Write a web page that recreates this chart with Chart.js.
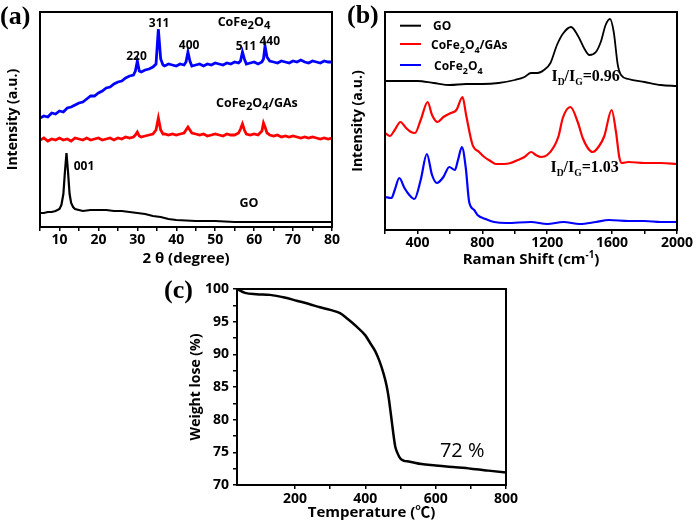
<!DOCTYPE html>
<html><head><meta charset="utf-8">
<script src="https://cdn.jsdelivr.net/npm/chart.js@4"></script>
<style>
html,body{margin:0;padding:0;background:#fff;}
#wrap{position:relative;width:697px;height:524px;overflow:hidden;background:#fff;}
canvas{position:absolute;}
</style></head><body>
<div id="wrap">
<canvas id="ca" width="345" height="270" style="left:0;top:0"></canvas>
<canvas id="cb" width="352" height="270" style="left:345px;top:0"></canvas>
<canvas id="cc" width="380" height="254" style="left:150px;top:270px"></canvas>
</div>
<script>
// ---------- (a) XRD ----------
const xrdX = [5,6,7,8,9,10,11,12,13,14,
  15,16,17,18,19,20,21,22,23,24,
  25,26,27,28,29,29.5,30,30.5,31,32,
  33,34,34.8,35.4,36,36.6,37,38,39,40,
  41,42,42.5,43,43.5,44,45,46,47,48,
  49,50,51,52,53,54,55,56,56.5,57,
  57.5,58,59,60,61,62,62.4,62.8,63.3,64,
  65,66,67,68,69,70,71,72,73,74,
  75,76,77,78,79,80];
const xrdCoFe2O4 = [109,111,110,114,113,116,115,119,120,122,
  124,125,128,131,131,134,136,139,140,143,
  145,146,149,151,152,156,166,156,155,157,
  158,160,163,198,168,162,161,163,162,161,
  163,162,165,175,166,161,162,163,161,163,
  162,164,163,162,164,163,165,164,166,175,
  168,163,164,165,163,165,168,181,170,166,
  165,164,166,165,164,166,165,167,165,164,
  166,165,164,166,165,165];
const xrdCoFe2O4GAs = [87,89,86,88,87,89,87,88,86,89,
  88,87,89,87,88,89,87,88,89,87,
  89,88,90,89,90,92,95,91,90,91,
  92,93,97,109,97,93,93,92,93,92,
  93,94,97,100,97,94,93,92,93,91,
  92,93,92,91,93,92,92,94,98,103,
  97,93,92,93,92,96,104,100,94,92,
  91,92,90,91,90,91,90,89,90,89,
  90,89,88,89,88,89];
const xrdGOX = [5,6,7,8,9,10,10.5,11,11.4,11.8,12.2,12.6,13,13.5,14,15,16,18,20,22,24,26,28,30,32,34,36,38,40,45,50,55,60,65,70,75,80];
const xrdGO  = [14,14,15,15,16,18,22,33,55,74,55,33,24,20,18,17,16,17,17,17,16,16,15,14,13,11,10,8,7,6,6,5,5,5,5,5,5];
const xrdTickLabels = [10,20,30,40,50,60,70,80];

// ---------- (b) Raman ----------
const ramanGOX = [200,300,400,500,600,700,800,900,1000,1060,1100,1140,1180,1220,1260,1300,1347,1390,1430,1460,1500,1530,1560,1587,1610,1635,1655,1700,1800,1900,2000];
const ramanGO  = [149,149,149,147,145,146,146,147,150,153,157,157,160,167,185,197,203,194,181,175,178,188,205,211,198,165,155,151,148,145,144];
const ramanGAsX = [200,230,260,295,330,360,385,420,463,490,524,560,606,640,678,700,740,780,812,850,883,930,975,1020,1060,1101,1130,1162,1200,1244,1270,1296,1343,1388,1419,1450,1480,1520,1552,1597,1624,1644,1660,1700,1800,1900,2000];
const ramanGAs  = [97,94,100,108,102,98,97,110,128,115,108,113,117,120,133,115,85,78,73,69,66,66,67,70,73,78,75,73,75,84,94,112,123,108,92,82,78,84,94,120,98,73,67,68,67,67,66];
const ramanCFOX = [200,240,260,288,320,350,381,420,458,490,520,560,596,631,650,674,698,719,750,770,820,873,950,1100,1200,1300,1400,1500,1580,1700,1800,1900,2000];
const ramanCFO  = [33,32,40,52,42,35,31,50,76,55,47,53,63,60,70,83,62,28,20,15,11,8,7,8,6,8,6,8,10,9,9,8,8];
const ramanTickLabels = [400,800,1200,1600,2000];

// ---------- (c) TGA ----------
const tgaT = [35,58,90,129,170,205,240,271,300,328,350,376,400,414,428,440,452,460,466,471,476,481,485,492,499,510,523,560,600,637,700,750,800];
const tgaW = [100,99.4,99.2,99.1,98.7,98.2,97.7,97.2,96.8,96.3,95.4,94.2,92.9,91.7,90.5,89.0,87.0,85.3,83.5,81.5,79.4,77.3,75.9,74.8,74.1,73.7,73.6,73.2,73.0,72.8,72.5,72.2,71.9];
const tgaXTickLabels = [200,400,600,800];
const tgaYTickLabels = [70,75,80,85,90,95,100];

const SANS = "'Open Sans','Noto Sans CJK SC','DejaVu Sans',sans-serif";
const SERIF = "'Liberation Serif','Times New Roman',serif";
Chart.defaults.font.family = SANS;
Chart.defaults.color = '#000';

function pts(xs, ys){ return xs.map((x,i)=>({x:x, y:ys[i]})); }

function rich(ctx, x, y, parts, size, weight, family, align, subScale, subDy, supDy){
  ctx.save();
  ctx.fillStyle = '#000';
  ctx.textBaseline = 'alphabetic';
  ctx.textAlign = 'left';
  let w = 0; const ms = [];
  for (const [t,k] of parts){
    const s = k==='n' ? size : size*subScale;
    ctx.font = weight+' '+s+'px '+family;
    const m = ctx.measureText(t).width;
    ms.push([t,k,s,m]); w += m;
  }
  let cx = align==='center' ? x - w/2 : x;
  for (const [t,k,s,m] of ms){
    ctx.font = weight+' '+s+'px '+family;
    const dy = k==='sub' ? subDy : (k==='sup' ? supDy : 0);
    ctx.fillText(t, cx, y+dy);
    cx += m;
  }
  ctx.restore();
}

function boxPlugin(drawExtra){
  return {
    id:'extra',
    afterDraw(chart){
      const ctx = chart.ctx, a = chart.chartArea;
      ctx.save();
      ctx.strokeStyle = '#000'; ctx.lineWidth = 2;
      ctx.strokeRect(a.left, a.top, a.right-a.left, a.bottom-a.top);
      ctx.restore();
      drawExtra(chart, ctx, a, chart.scales.x, chart.scales.y);
    }
  };
}

function lineDs(xs, ys, color, width, smooth){
  return {data: pts(xs, ys), borderColor: color, backgroundColor: color, borderWidth: width,
    pointRadius: 0, tension: 0, cubicInterpolationMode: smooth ? 'monotone' : 'default', fill:false};
}

const W = 'bold';
const tickFont = {size:14, weight:W};
const titleFont = {size:15, weight:W};

// ---------- Chart (a) ----------
new Chart(document.getElementById('ca'), {
  type:'line',
  data:{datasets:[
    lineDs(xrdX, xrdCoFe2O4, '#0000ff', 2.8, false),
    lineDs(xrdX, xrdCoFe2O4GAs, '#ff0000', 2.8, false),
    lineDs(xrdGOX, xrdGO, '#000000', 2.2, false)
  ]},
  options:{
    responsive:false, animation:false,
    layout:{padding:{top:12,right:13,left:0,bottom:0}},
    plugins:{legend:{display:false}, tooltip:{enabled:false}},
    scales:{
      x:{type:'linear', min:5, max:80,
        afterFit(s){ s.height = 43; },
        ticks:{stepSize:5, autoSkip:false, maxRotation:0, padding:1, font:tickFont, color:'#000',
          callback:v=> xrdTickLabels.includes(v) ? String(v) : ''},
        grid:{drawOnChartArea:false, color:'#000', lineWidth:1.5, tickLength:4},
        border:{display:false},
        title:{display:true, text:'2 θ (degree)', font:titleFont, color:'#000', padding:{top:0,bottom:2}}},
      y:{min:0, max:215,
        afterFit(s){ s.width = 40; },
        ticks:{display:false}, grid:{display:false}, border:{display:false},
        title:{display:true, text:'Intensity (a.u.)', font:{size:14, weight:W}, color:'#000', padding:{top:5,bottom:0}}}
    }
  },
  plugins:[boxPlugin((chart, ctx, a, xs, ys)=>{
    ctx.save();
    ctx.fillStyle='#000';
    ctx.font = 'bold 26px '+SERIF;
    ctx.textBaseline='middle'; ctx.textAlign='left';
    ctx.fillText('(a)', 0, 17);
    ctx.restore();
    const peaks = [['220',29.8,172],['311',35.6,205],['400',43.3,183],['511',57.9,182],['440',64.0,187],['001',16.3,62]];
    for (const [t,x,y] of peaks){
      const px = xs.getPixelForValue(x), py = ys.getPixelForValue(y);
      rich(ctx, px, py+4.5, [[t,'n']], 12, W, SANS, 'center', 1, 0, 0);
    }
    rich(ctx, xs.getPixelForValue(57.4), ys.getPixelForValue(206)+4.5,
      [['CoFe','n'],['2','sub'],['O','n'],['4','sub']], 12.5, W, SANS, 'center', 0.9, 3, 0);
    rich(ctx, xs.getPixelForValue(60.7), ys.getPixelForValue(125)+4.5,
      [['CoFe','n'],['2','sub'],['O','n'],['4','sub'],['/GAs','n']], 12.5, W, SANS, 'center', 0.9, 3, 0);
    rich(ctx, xs.getPixelForValue(58.7), ys.getPixelForValue(25)+4.5,
      [['GO','n']], 12.5, W, SANS, 'center', 1, 0, 0);
  })]
});

// ---------- Chart (b) ----------
new Chart(document.getElementById('cb'), {
  type:'line',
  data:{datasets:[
    lineDs(ramanGOX, ramanGO, '#000000', 1.8, true),
    lineDs(ramanGAsX, ramanGAs, '#ff0000', 2.2, true),
    lineDs(ramanCFOX, ramanCFO, '#0000ff', 2.2, true)
  ]},
  options:{
    responsive:false, animation:false,
    layout:{padding:{top:12,right:20,left:0,bottom:0}},
    plugins:{legend:{display:false}, tooltip:{enabled:false}},
    scales:{
      x:{type:'linear', min:200, max:2000,
        afterFit(s){ s.height = 40; },
        ticks:{stepSize:200, autoSkip:false, maxRotation:0, padding:1, font:tickFont, color:'#000',
          callback:v=> ramanTickLabels.includes(v) ? String(v) : ''},
        grid:{drawOnChartArea:false, color:'#000', lineWidth:1.5, tickLength:4},
        border:{display:false}},
      y:{min:0, max:218,
        afterFit(s){ s.width = 40; },
        ticks:{display:false}, grid:{display:false}, border:{display:false},
        title:{display:true, text:'Intensity (a.u.)', font:{size:14, weight:W}, color:'#000', padding:{top:5,bottom:0}}}
    }
  },
  plugins:[boxPlugin((chart, ctx, a, xs, ys)=>{
    ctx.save();
    ctx.fillStyle='#000';
    ctx.font = 'bold 26px '+SERIF;
    ctx.textBaseline='middle'; ctx.textAlign='left';
    ctx.fillText('(b)', 2, 16);
    ctx.restore();
    rich(ctx, (a.left+a.right)/2, 264, [['Raman Shift (cm','n'],['-1','sup'],[')','n']], 15, W, SANS, 'center', 0.65, 0, -6);
    const leg = [['#000000', 13.7, [['GO','n']]],
                 ['#ff0000', 32, [['CoFe','n'],['2','sub'],['O','n'],['4','sub'],['/GAs','n']]],
                 ['#0000ff', 53, [['CoFe','n'],['2','sub'],['O','n'],['4','sub']]]];
    const offs = [48, 46, 49];
    leg.forEach(([c,dy,parts],i)=>{
      ctx.save(); ctx.strokeStyle=c; ctx.lineWidth=2;
      ctx.beginPath(); ctx.moveTo(a.left+15, a.top+dy); ctx.lineTo(a.left+36, a.top+dy); ctx.stroke(); ctx.restore();
      rich(ctx, a.left+offs[i], a.top+dy+4.5, parts, 12, W, SANS, 'left', 0.75, 4, 0);
    });
    rich(ctx, xs.getPixelForValue(1226), ys.getPixelForValue(149),
      [['I','n'],['D','sub'],['/I','n'],['G','sub'],['=0.96','n']], 16, 'bold', SERIF, 'left', 0.6, 4, 0);
    rich(ctx, xs.getPixelForValue(1220), ys.getPixelForValue(58),
      [['I','n'],['D','sub'],['/I','n'],['G','sub'],['=1.03','n']], 16, 'bold', SERIF, 'left', 0.6, 4, 0);
  })]
});

// ---------- Chart (c) ----------
new Chart(document.getElementById('cc'), {
  type:'line',
  data:{datasets:[ lineDs(tgaT, tgaW, '#000000', 2.5, true) ]},
  options:{
    responsive:false, animation:false,
    layout:{padding:{top:19,right:24,left:0,bottom:0}},
    plugins:{legend:{display:false}, tooltip:{enabled:false}},
    scales:{
      x:{type:'linear', min:35, max:800,
        afterFit(s){ s.height = 39; },
        afterBuildTicks(s){ s.ticks = s.ticks.filter(t=> t.value % 100 === 0); },
        ticks:{stepSize:100, autoSkip:false, maxRotation:0, padding:2, font:tickFont, color:'#000',
          callback:v=> tgaXTickLabels.includes(v) ? String(v) : ''},
        grid:{drawOnChartArea:false, color:'#000', lineWidth:1.5, tickLength:4},
        border:{display:false},
        title:{display:true, text:'Temperature (℃)', font:titleFont, color:'#000', padding:{top:0,bottom:2}}},
      y:{min:70, max:100,
        afterFit(s){ s.width = 87; },
        ticks:{stepSize:2.5, autoSkip:false, padding:4, font:tickFont, color:'#000',
          callback:v=> tgaYTickLabels.includes(v) ? String(v) : ''},
        grid:{drawOnChartArea:false, color:'#000', lineWidth:1.5, tickLength:4},
        border:{display:false},
        title:{display:true, text:'Weight lose (%)', font:{size:14, weight:W}, color:'#000', padding:{top:38,bottom:0}}}
    }
  },
  plugins:[boxPlugin((chart, ctx, a, xs, ys)=>{
    ctx.save();
    ctx.fillStyle='#000';
    ctx.font = 'bold 26px '+SERIF;
    ctx.textBaseline='middle'; ctx.textAlign='left';
    ctx.fillText('(c)', 14, 21);
    ctx.restore();
    rich(ctx, xs.getPixelForValue(612), ys.getPixelForValue(74.3), [['72 %','n']], 20, 'normal', SANS, 'left', 1, 0, 0);
  })]
});
</script>
</body></html>
